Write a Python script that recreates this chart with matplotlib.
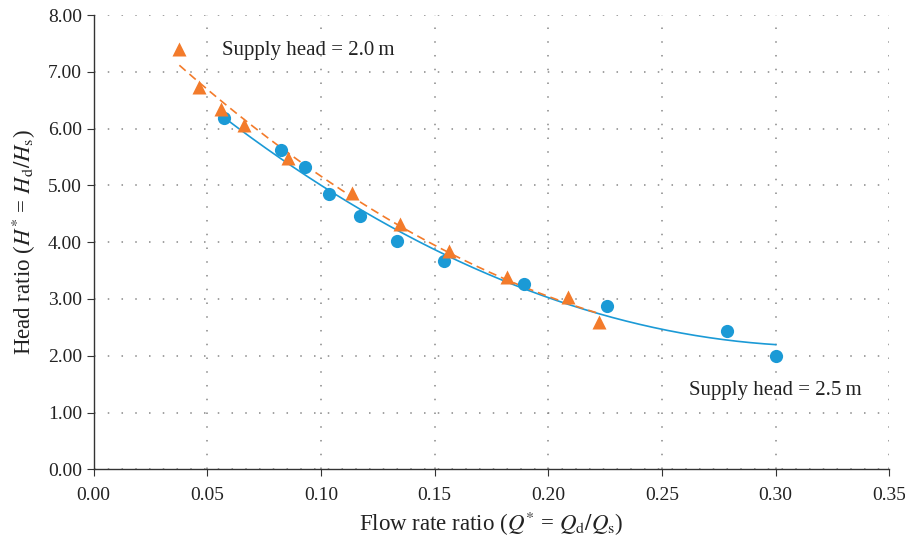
import numpy as np
import matplotlib.pyplot as plt

# supply head = 2.5 m (circles)
q_25 = [0.0573, 0.0826, 0.0928, 0.1036, 0.1170, 0.1333, 0.1540, 0.1895, 0.2260, 0.2786, 0.3000]
h_25 = [6.18, 5.62, 5.33, 4.85, 4.46, 4.02, 3.67, 3.26, 2.88, 2.43, 2.00]

# supply head = 2.0 m (triangles)
q_20 = [0.0377, 0.0463, 0.0559, 0.0663, 0.0855, 0.1138, 0.1349, 0.1562, 0.1817, 0.2088, 0.2221]
h_20 = [7.40, 6.73, 6.34, 6.06, 5.48, 4.86, 4.32, 3.85, 3.38, 3.03, 2.60]

xticks = [0.00, 0.05, 0.10, 0.15, 0.20, 0.25, 0.30, 0.35]
yticks = [0, 1, 2, 3, 4, 5, 6, 7, 8]

blue = '#1b9ad6'
orange = '#f37b2b'

plt.rcParams['font.family'] = ['Liberation Serif', 'DejaVu Serif']
plt.rcParams['mathtext.fontset'] = 'stix'

fig = plt.figure(figsize=(9.05, 5.42), dpi=100)
ax = fig.add_axes([0.1035, 0.134, 0.8792, 0.8383])

# polynomial trendlines (2nd order)
c25 = np.polyfit(q_25, h_25, 2)
xx = np.linspace(min(q_25), max(q_25), 200)
ax.plot(xx, np.polyval(c25, xx), color=blue, lw=1.2, zorder=2)

c20 = np.polyfit(q_20, h_20, 2)
xx2 = np.linspace(min(q_20), max(q_20), 200)
ax.plot(xx2, np.polyval(c20, xx2), color=orange, lw=1.2, ls=(0, (5, 3)), zorder=2)

ax.plot(q_25, h_25, 'o', color=blue, ms=9.5, mec='none', zorder=3)
ax.plot(q_20, h_20, '^', color=orange, ms=9.5, mec='none', zorder=3)

ax.text(0.0564, 7.38, 'Supply head = 2.0\u2009m', fontsize=15, va='center', ha='left', color='#222')
ax.text(0.2620, 1.38, 'Supply head = 2.5\u2009m', fontsize=15, va='center', ha='left', color='#222')

ax.set_xlim(0, 0.35)
ax.set_ylim(0, 8)
ax.set_xticks(xticks)
ax.set_xticklabels(['%.2f' % v for v in xticks])
ax.set_yticks(yticks)
ax.set_yticklabels(['%.2f' % v for v in yticks])

ax.grid(True, color='#888888', ls=(0, (1, 8)), lw=1.1)
ax.set_axisbelow(True)
for s in ['top', 'right']:
    ax.spines[s].set_visible(False)
for s in ['left', 'bottom']:
    ax.spines[s].set_color('#333333')
    ax.spines[s].set_linewidth(1.0)
ax.tick_params(direction='out', length=5, color='#333333', labelsize=14, labelcolor='#222')
ax.tick_params(axis='x', pad=8)

ax.set_xlabel(r'Flow rate ratio ($Q^{*}$ = $Q_{\rm d}/Q_{\rm s}$)', fontsize=16.5, color='#222', labelpad=4)
ax.set_ylabel(r'Head ratio ($H^{*}$ = $H_{\rm d}/H_{\rm s}$)', fontsize=16.5, color='#222', labelpad=7)

plt.savefig('out.png', dpi=100)
